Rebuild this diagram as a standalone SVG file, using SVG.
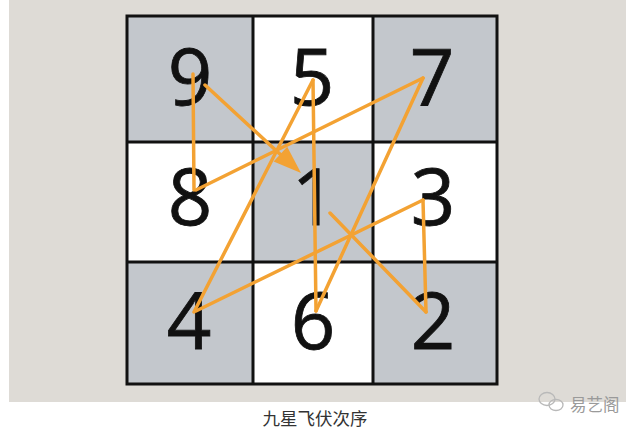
<svg xmlns="http://www.w3.org/2000/svg" width="640" height="430" viewBox="0 0 640 430">
<style>
.g{fill:#c3c7cc}
.w{fill:#ffffff}
.d{font-family:"Open Sans","DejaVu Sans",sans-serif;font-size:78px;font-weight:400;fill:#111;text-anchor:middle;stroke:#111;stroke-width:0.8}
.ln{stroke:#f3a233;stroke-width:3.5;fill:none;stroke-linecap:round}
.gl{stroke:#111;stroke-width:3;fill:none}
</style>
<rect x="0" y="0" width="640" height="430" fill="#ffffff"/>
<rect x="9" y="0" width="617" height="402" fill="#dedbd6"/>
<g id="cells">
<g id="n9"><rect class="g" x="127" y="16" width="126" height="126"/><text class="d" x="190" y="105">9</text></g>
<g id="n5"><rect class="w" x="253" y="16" width="120" height="126"/><text class="d" x="312" y="105">5</text></g>
<g id="n7"><rect class="g" x="373" y="16" width="124" height="126"/><text class="d" x="432" y="105">7</text></g>
<g id="n8"><rect class="w" x="127" y="142" width="126" height="120"/><text class="d" x="190" y="225">8</text></g>
<g id="n1"><rect class="g" x="253" y="142" width="120" height="120"/><text class="d" x="314" y="225">1</text></g>
<g id="n3"><rect class="w" x="373" y="142" width="124" height="120"/><text class="d" x="433" y="225">3</text></g>
<g id="n4"><rect class="g" x="127" y="262" width="126" height="122"/><text class="d" x="189" y="349">4</text></g>
<g id="n6"><rect class="w" x="253" y="262" width="120" height="122"/><text class="d" x="313" y="349">6</text></g>
<g id="n2"><rect class="g" x="373" y="262" width="124" height="122"/><text class="d" x="433" y="349">2</text></g>
</g>
<g id="grid" class="gl">
<rect x="127" y="16" width="370" height="368"/>
<line x1="253" y1="16" x2="253" y2="384"/>
<line x1="373" y1="16" x2="373" y2="384"/>
<line x1="127" y1="142" x2="497" y2="142"/>
<line x1="127" y1="262" x2="497" y2="262"/>
</g>
<g id="connectors" class="ln">
<line x1="330" y1="213" x2="426" y2="312"/>
<line x1="426" y1="312" x2="423" y2="200"/>
<line x1="423" y1="200" x2="196" y2="311"/>
<line x1="194" y1="312" x2="313" y2="80"/>
<line x1="313" y1="80" x2="316" y2="311"/>
<line x1="316" y1="311" x2="423" y2="78"/>
<line x1="423" y1="78" x2="196" y2="190"/>
<line x1="194" y1="190" x2="193" y2="74"/>
<line x1="205" y1="85" x2="282" y2="156"/>
<polygon points="301,173 273.6,161.5 287.2,146.7" fill="#f3a233" stroke="none"/>
</g>
<text x="315" y="425" font-family="'Noto Sans CJK SC',sans-serif" font-size="17.5" fill="#333" text-anchor="middle">九星飞伏次序</text>
<g id="watermark" fill="none" stroke="#b9b9b9" stroke-width="1.3">
<ellipse cx="547" cy="399" rx="8" ry="6.5"/>
<ellipse cx="556" cy="405" rx="7" ry="5.5"/>
</g>
<text x="570" y="411" font-family="'Noto Sans CJK SC',sans-serif" font-size="16.5" fill="#9a9a9a">易艺阁</text>
</svg>
